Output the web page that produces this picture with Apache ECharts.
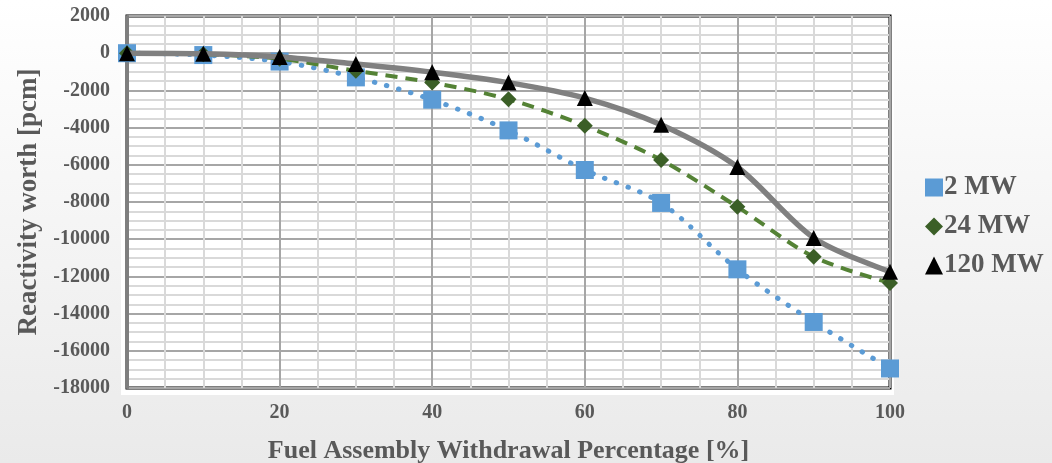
<!DOCTYPE html>
<html><head><meta charset="utf-8">
<script src="https://cdn.jsdelivr.net/npm/echarts@6/dist/echarts.min.js"></script>
<style>html,body{margin:0;padding:0;}#c{width:1052px;height:463px;}</style>
</head><body><div id="c"></div>
<script>
var xValues = [0, 10, 20, 30, 40, 50, 60, 70, 80, 90, 100];
var mw2 = [0, -100, -450, -1300, -2500, -4150, -6280, -8050, -11620, -14450, -16950];
var mw24 = [0, -50, -300, -950, -1580, -2480, -3900, -5740, -8260, -10950, -12350];
var mw120 = [0, -30, -200, -580, -1020, -1580, -2410, -3850, -6120, -9930, -11750];
var seriesNames = ['2 MW', '24 MW', '120 MW'];

function pairs(v){ return xValues.map(function(x,i){ return [x, v[i]]; }); }
var font = 'Liberation Serif';
var txt = '#595959';
var chart = echarts.init(document.getElementById('c'));
chart.setOption({
  animation: false,
  backgroundColor: {type:'linear', x:0, y:0, x2:0, y2:1, colorStops:[{offset:0,color:'#ffffff'},{offset:1,color:'#eaeaea'}]},
  graphic: [{type:'rect', z:-10, shape:{x:121, y:12, width:773, height:383}, style:{fill:'#ffffff'}}],
  grid: {left:127, right:162, top:16, bottom:75, show:true, backgroundColor:'#ffffff', borderColor:'#000000', borderWidth:3, containLabel:false, outerBoundsMode:'none'},
  legend: {
    orient:'vertical', left:920, top:169, itemGap:12, itemWidth:18, itemHeight:18,
    textStyle:{fontFamily:font, fontWeight:'bold', fontSize:27, color:txt, padding:[0,0,0,-4]},
    data:[{name:'2 MW', icon:'rect'},{name:'24 MW', icon:'diamond'},{name:'120 MW', icon:'triangle'}]
  },
  xAxis: {
    type:'value', min:0, max:100, interval:20,
    name:'Fuel Assembly Withdrawal Percentage [%]', nameLocation:'middle', nameGap:50,
    nameTextStyle:{fontFamily:font, fontWeight:'bold', fontSize:26, color:txt},
    axisLine:{show:false}, axisTick:{show:false},
    axisLabel:{fontFamily:font, fontWeight:'bold', fontSize:20, color:txt, margin:15, formatter:function(v){return String(v);}},
    splitLine:{show:true, lineStyle:{color:'#a6a6a6', width:2}},
    minorTick:{show:false, splitNumber:4},
    minorSplitLine:{show:true, lineStyle:{color:'#d9d9d9', width:2}}
  },
  yAxis: {
    type:'value', min:-18000, max:2000, interval:2000,
    name:'Reactivity worth [pcm]', nameLocation:'middle', nameGap:83,
    nameTextStyle:{fontFamily:font, fontWeight:'bold', fontSize:27, color:txt},
    axisLine:{show:true, onZero:false, lineStyle:{color:'#7f7f7f', width:3}}, axisTick:{show:false},
    axisLabel:{fontFamily:font, fontWeight:'bold', fontSize:20, color:txt, margin:17, formatter:function(v){return String(v);}},
    splitLine:{show:true, lineStyle:{color:'#a6a6a6', width:2}},
    minorTick:{show:false, splitNumber:4},
    minorSplitLine:{show:true, lineStyle:{color:'#d9d9d9', width:2}}
  },
  series: [
    {name:seriesNames[0], type:'line', data:pairs(mw2), smooth:0.3, symbol:'rect', symbolSize:18,
     itemStyle:{color:'#5b9bd5'}, lineStyle:{color:'#5b9bd5', width:5, type:[0.5,12], cap:'round'}, z:2},
    {name:seriesNames[1], type:'line', data:pairs(mw24), smooth:0.3, symbol:'diamond', symbolSize:16,
     itemStyle:{color:'#3b5f27'}, lineStyle:{color:'#548235', width:4, type:[12,8]}, z:3},
    {name:seriesNames[2], type:'line', data:pairs(mw120), smooth:0.3, symbol:'triangle', symbolSize:16,
     itemStyle:{color:'#000000'}, lineStyle:{color:'#808080', width:5.5}, z:4}
  ]
});
</script></body></html>
